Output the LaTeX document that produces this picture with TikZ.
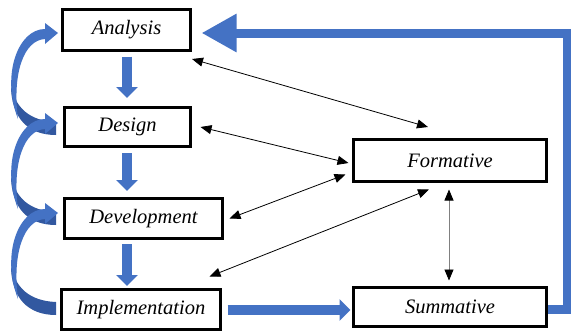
\documentclass[tikz,border=0pt]{standalone}
\usepackage{fontspec}
\setmainfont{Liberation Serif}
\usetikzlibrary{arrows.meta,calc}
\definecolor{flowblue}{RGB}{68,114,196}
\definecolor{flowdark}{RGB}{50,88,160}
\definecolor{linkgray}{RGB}{128,128,128}

\tikzset{
  stage/.style={draw=black, line width=3pt, fill=white, inner sep=0pt,
    font=\fontsize{20.5}{24}\selectfont\itshape},
  flowarrow/.style={draw=flowblue, line width=10pt,
    -{Triangle[length=11pt,width=21pt]}},
  returnarrow/.style={draw=flowblue, line width=9pt, line join=miter,
    -{Triangle[length=35pt,width=36pt]}},
  link/.style={draw=black, line width=0.8pt,
    {Triangle[length=11pt,width=9pt,color=black]}-{Triangle[length=11pt,width=9pt,color=black]}},
  % curved feedback ribbon; origin is the arrow tip
  loopback/.pic={
    \fill[flowdark] (-2,102) .. controls (-30,102) and (-47,85) .. (-47,52)
      .. controls (-43,75) and (-28,88) .. (-2,89) -- cycle;
    \fill[flowblue] (-40,86) .. controls (-57,42) and (-40,-4) .. (-13,-4)
      -- (-13,-10) -- (0,0) -- (-13,11) -- (-13,6)
      .. controls (-34,7) and (-46,40) .. (-40,86) -- cycle;
  }
}

\begin{document}
\begin{tikzpicture}[x=1pt,y=-1pt]
\useasboundingbox (0,0) rectangle (571,333);

% feedback loops on the left (drawn first so the boxes sit on top)
\coordinate (t1) at (58,33);
\coordinate (t2) at (58,123);
\coordinate (t3) at (58,213);
\pic at (t1) {loopback};
\pic at (t2) {loopback};
\pic at (t3) {loopback};

% stages
\node[stage, minimum width=128pt, minimum height=41pt] (ana) at (126.5,30) {Analysis};
\node[stage, minimum width=126pt, minimum height=39pt] (des) at (127.5,127) {Design};
\node[stage, minimum width=158pt, minimum height=40pt] (dev) at (143.5,218.5) {Development};
\node[stage, minimum width=159pt, minimum height=40pt] (imp) at (141,309.5) {Implementation};
\node[stage, minimum width=193pt, minimum height=42pt] (for) at (450,160.5) {Formative};
\node[stage, minimum width=193pt, minimum height=39pt] (sum) at (450,307) {Summative};

% main flow
\draw[flowarrow] ($(ana.south)+(0.5,4.5)$) -- ($(ana.south |- des.north)+(0.5,-8)$);
\draw[flowarrow] ($(des.south)+(-0.5,5)$) -- ($(des.south |- dev.north)+(-0.5,-6)$);
\draw[flowarrow] ($(dev.south -| des.south)+(-0.5,4)$) -- ($(des.south |- imp.north)+(-0.5,-2)$);
\draw[flowarrow] ($(imp.east)+(5.5,0.5)$) -- ($(sum.west |- imp.east)+(-1.5,0.5)$);

% return to analysis
\draw[returnarrow] ($(sum.east)+(0,2)$) -| ($(ana.east)+(375.5,3)$) -- ($(ana.east)+(9.5,3)$);

% evaluation links
\draw[link] ($(ana.south east)+(0,7)$) -- ($(for.north)+(-22,-11)$);
\draw[link] ($(des.east)+(8.5,0)$) -- ($(for.west)+(-3.5,2.5)$);
\draw[link] ($(dev.east)+(5.5,0)$) -- ($(for.south west)+(-6.5,-8.5)$);
\draw[link] ($(imp.north east)+(-12.5,-11.5)$) -- ($(for.south)+(-21,6.5)$);
\draw[link, draw=linkgray] ($(for.south)+(-1,6.5)$) -- ($(sum.north)+(-1,-5.5)$);
\end{tikzpicture}
\end{document}
